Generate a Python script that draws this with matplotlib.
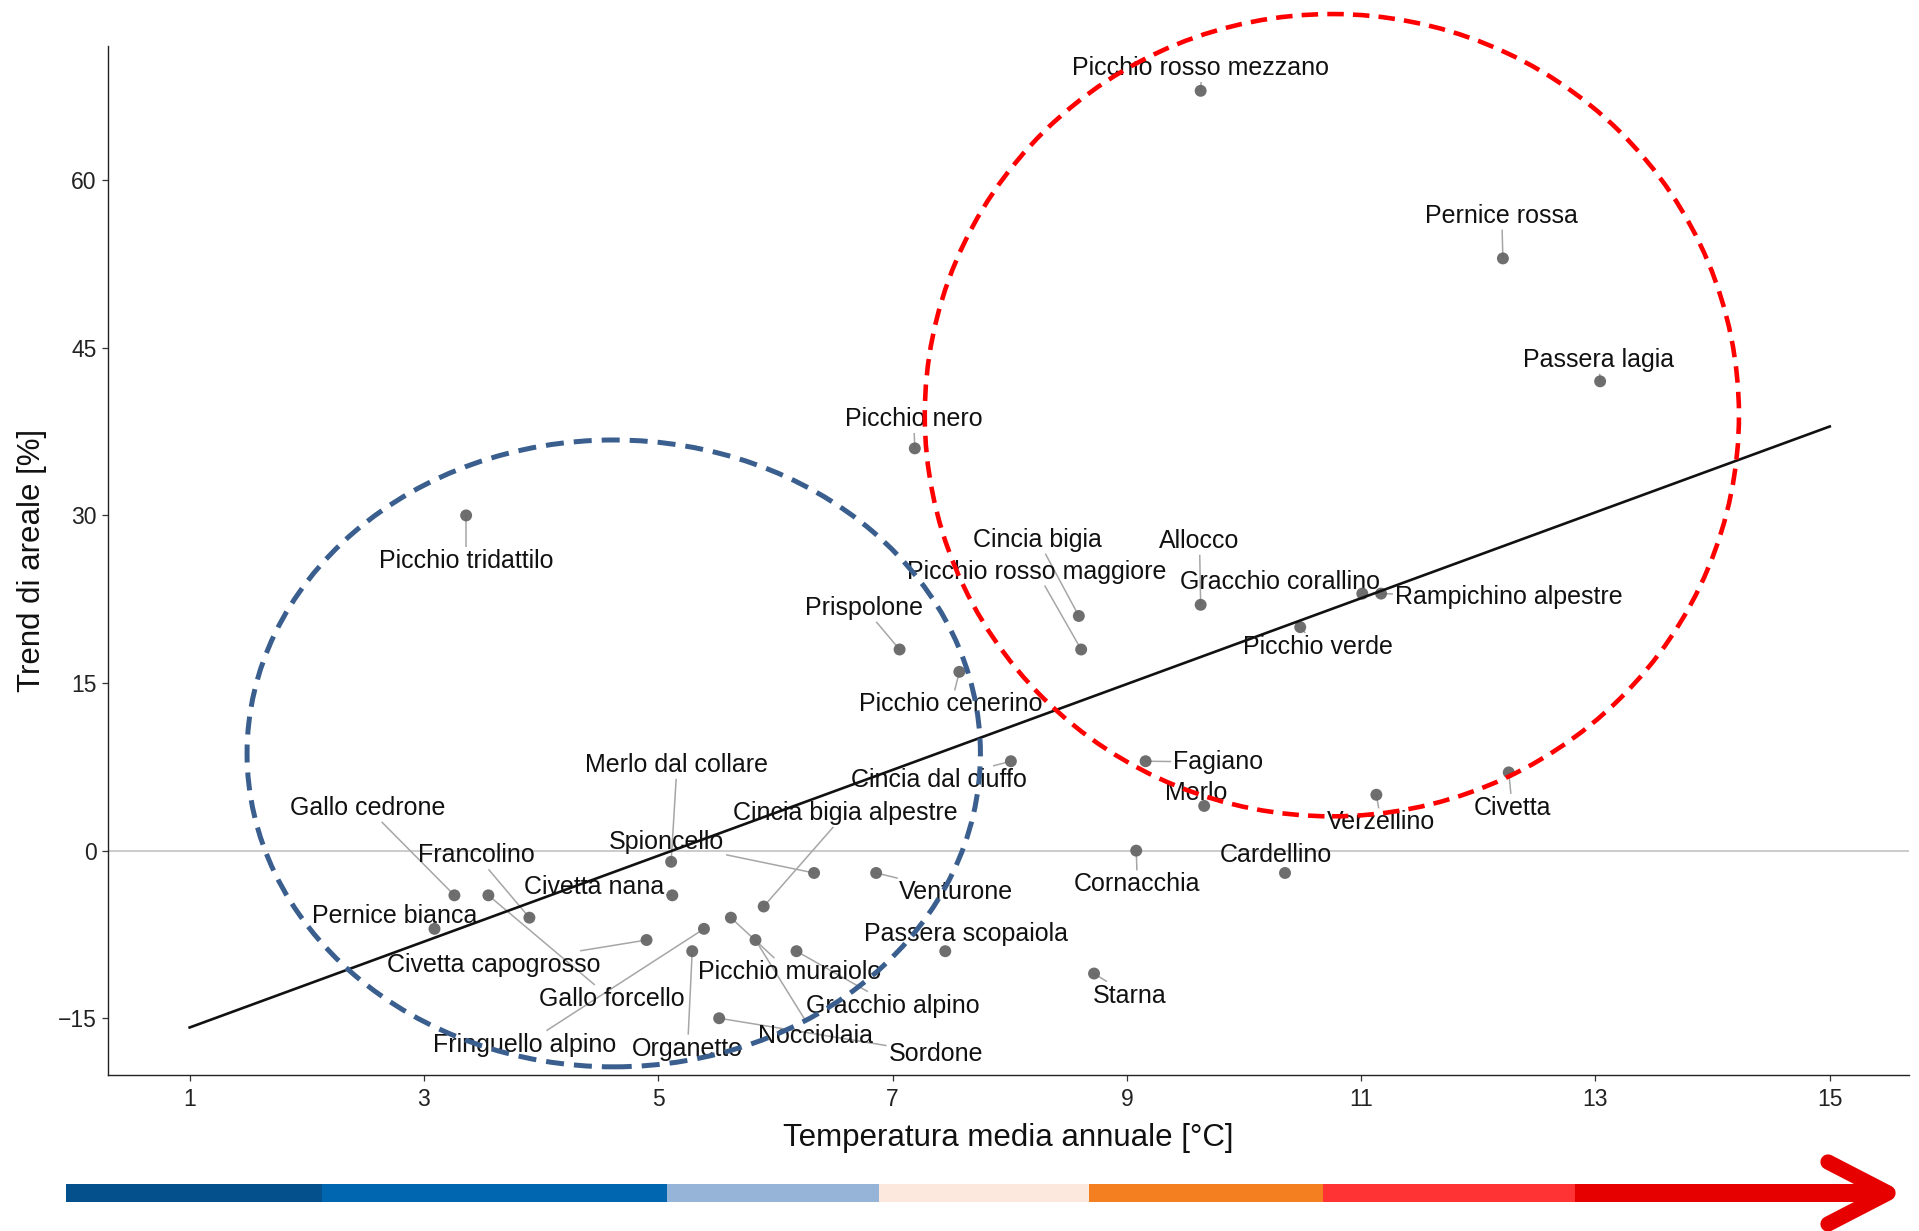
import numpy as np
import matplotlib
matplotlib.use("Agg")
import matplotlib.pyplot as plt
from matplotlib.patches import Ellipse, Rectangle
from matplotlib.lines import Line2D

plt.rcParams['font.family'] = ['Liberation Sans', 'DejaVu Sans']

# ---------------------------------------------------------------- data
species = [
    "Picchio rosso mezzano", "Pernice rossa", "Passera lagia", "Picchio nero",
    "Picchio tridattilo", "Cincia bigia", "Picchio rosso maggiore", "Allocco",
    "Gracchio corallino", "Rampichino alpestre", "Picchio verde", "Prispolone",
    "Picchio cenerino", "Fagiano", "Cincia dal ciuffo", "Civetta", "Verzellino",
    "Merlo", "Cornacchia", "Cardellino", "Venturone", "Spioncello",
    "Merlo dal collare", "Civetta nana", "Gallo cedrone", "Gallo forcello",
    "Cincia bigia alpestre", "Francolino", "Pernice bianca", "Civetta capogrosso",
    "Fringuello alpino", "Organetto", "Picchio muraiolo", "Nocciolaia",
    "Gracchio alpino", "Sordone", "Passera scopaiola", "Starna",
]
temperature = [
    9.63, 12.21, 13.04, 7.19,
    3.36, 8.59, 8.61, 9.63,
    11.01, 11.17, 10.48, 7.06,
    7.57, 9.16, 8.01, 12.26, 11.13,
    9.66, 9.08, 10.35, 6.86, 6.33,
    5.11, 5.12, 3.26, 3.55,
    5.90, 3.90, 3.09, 4.90,
    5.39, 5.29, 5.62, 5.83,
    6.18, 5.52, 7.45, 8.72,
]
range_trend = [
    68, 53, 42, 36,
    30, 21, 18, 22,
    23, 23, 20, 18,
    16, 8, 8, 7, 5,
    4, 0, -2, -2, -2,
    -1, -4, -4, -4,
    -5, -6, -7, -8,
    -7, -9, -6, -8,
    -9, -15, -9, -11,
]

# linear trend drawn across the temperature span
trend_intercept = -19.67
trend_slope = 3.842
trend_span = [1, 15]

x_ticks = [1, 3, 5, 7, 9, 11, 13, 15]
y_ticks = [-15, 0, 15, 30, 45, 60]

# group outlines: centre (x, y), full width, full height in data units
cold_group = {"center": (4.62, 8.70), "width": 6.26, "height": 56.1}
warm_group = {"center": (10.75, 38.97), "width": 6.95, "height": 71.8}

# temperature colour scale shown under the plot
scale_colors = ["#03508d", "#0066b0", "#96b4d8", "#fce8dc",
                "#f47f20", "#ff3334", "#e60000"]

# ---------------------------------------------------------------- layout
# label centres (data coordinates)
label_xy = {
    "Picchio rosso mezzano": (9.63, 70.2),
    "Pernice rossa": (12.20, 57.0),
    "Passera lagia": (13.03, 44.1),
    "Picchio nero": (7.18, 38.8),
    "Picchio tridattilo": (3.36, 26.05),
    "Cincia bigia": (8.24, 28.0),
    "Picchio rosso maggiore": (8.23, 25.15),
    "Allocco": (9.62, 27.9),
    "Gracchio corallino": (10.31, 24.2),
    "Rampichino alpestre": (12.26, 22.85),
    "Picchio verde": (10.63, 18.4),
    "Prispolone": (6.76, 21.9),
    "Picchio cenerino": (7.50, 13.25),
    "Fagiano": (9.78, 8.1),
    "Cincia dal ciuffo": (7.40, 6.5),
    "Civetta": (12.29, 4.0),
    "Verzellino": (11.17, 2.7),
    "Merlo": (9.59, 5.3),
    "Cornacchia": (9.09, -2.85),
    "Cardellino": (10.27, -0.2),
    "Venturone": (7.54, -3.55),
    "Spioncello": (5.07, 0.9),
    "Merlo dal collare": (5.16, 7.85),
    "Civetta nana": (4.45, -3.1),
    "Gallo cedrone": (2.52, 4.0),
    "Gallo forcello": (4.60, -13.1),
    "Cincia bigia alpestre": (6.60, 3.55),
    "Francolino": (3.45, -0.25),
    "Pernice bianca": (2.75, -5.65),
    "Civetta capogrosso": (3.60, -10.05),
    "Fringuello alpino": (3.86, -17.2),
    "Organetto": (5.25, -17.55),
    "Picchio muraiolo": (6.12, -10.7),
    "Nocciolaia": (6.34, -16.45),
    "Gracchio alpino": (7.00, -13.7),
    "Sordone": (7.37, -18.0),
    "Passera scopaiola": (7.63, -7.3),
    "Starna": (9.02, -12.8),
}
label_drop = 0.17  # bbox centring sits a little high relative to the glyphs

W, H = 1919, 1231
fig = plt.figure(figsize=(W / 100, H / 100), dpi=100)
ax = fig.add_axes([0.0561, 0.127, 0.995 - 0.0561, 0.963 - 0.127])
ax.set_xlim(0.30, 15.68)
ax.set_ylim(-20.05, 72.05)

for side in ("top", "right"):
    ax.spines[side].set_visible(False)
for side in ("left", "bottom"):
    ax.spines[side].set_linewidth(1.0)
    ax.spines[side].set_color("#222222")

ax.set_xticks(x_ticks)
ax.set_yticks(y_ticks)
ax.tick_params(axis="both", length=4, width=0.9, color="#333333",
               labelsize=16.5, labelcolor="#222222", pad=4)
ax.tick_params(axis="x", pad=5.5)

ax.set_xlabel("Temperatura media annuale [°C]", fontsize=22.5, labelpad=8.5,
              color="#111111")
ax.set_ylabel("Trend di areale [%]", fontsize=22.5, labelpad=8, color="#111111")

# zero reference
ax.axhline(0, color="#bdbdbd", lw=1.1, zorder=0.5)

# species points
ax.scatter(temperature, range_trend, s=74, color="#666666", alpha=0.95,
           edgecolors="none", zorder=3)

# labels
texts = []
for name, x, y in zip(species, temperature, range_trend):
    lx, ly = label_xy[name]
    t = ax.text(lx, ly - label_drop, name, fontsize=18, ha="center",
                va="center", color="#111111", zorder=2)
    texts.append((t, x, y))

# leader segments from each point to the edge of its label box
fig.canvas.draw()
renderer = fig.canvas.get_renderer()
inv = ax.transData.inverted()
pad = 2.0
for t, x, y in texts:
    bb = t.get_window_extent(renderer)
    x0, y0, x1, y1 = bb.x0 - pad, bb.y0 - pad, bb.x1 + pad, bb.y1 + pad
    cx, cy = (x0 + x1) / 2, (y0 + y1) / 2
    px, py = ax.transData.transform((x, y))
    if x0 <= px <= x1 and y0 <= py <= y1:
        continue
    dx, dy = px - cx, py - cy
    hw, hh = (x1 - x0) / 2, (y1 - y0) / 2
    s = min(hw / abs(dx) if dx else np.inf, hh / abs(dy) if dy else np.inf)
    ex, ey = cx + s * dx, cy + s * dy
    if np.hypot(px - ex, py - ey) < 6:
        continue
    (dx0, dy0), (dx1, dy1) = inv.transform([(px, py), (ex, ey)])
    ax.plot([dx0, dx1], [dy0, dy1], color="#a6a6a6", lw=1.1, zorder=1.5,
            solid_capstyle="butt")

# trend line
tx = np.array(trend_span, dtype=float)
ax.plot(tx, trend_intercept + trend_slope * tx, color="#111111", lw=1.9,
        zorder=4)

# group outlines
for grp, col, lw, dash in ((cold_group, "#3a5f8e", 3.6, (3.6, 2.0)),
                           (warm_group, "#ff0000", 3.3, (3.6, 2.0))):
    e = Ellipse(grp["center"], grp["width"], grp["height"], fill=False,
                edgecolor=col, lw=lw, linestyle=(0, dash), zorder=5,
                clip_on=False)
    ax.add_patch(e)

# temperature colour scale with arrow head
stops_px = [66, 322, 667, 879, 1089, 1323, 1575, 1882]
bar_y0, bar_y1 = 1 - 1202 / H, 1 - 1184 / H
for c, a, b in zip(scale_colors, stops_px[:-1], stops_px[1:]):
    fig.patches.append(Rectangle((a / W, bar_y0), (b - a) / W, bar_y1 - bar_y0,
                                 transform=fig.transFigure, facecolor=c,
                                 edgecolor="none"))
head = Line2D([1828 / W, 1888 / W, 1828 / W],
              [1 - 1162 / H, 1 - 1193 / H, 1 - 1224 / H],
              transform=fig.transFigure, color=scale_colors[-1], lw=11.0,
              solid_capstyle="round", solid_joinstyle="round")
fig.lines.append(head)

fig.savefig("out.png", dpi=100)
